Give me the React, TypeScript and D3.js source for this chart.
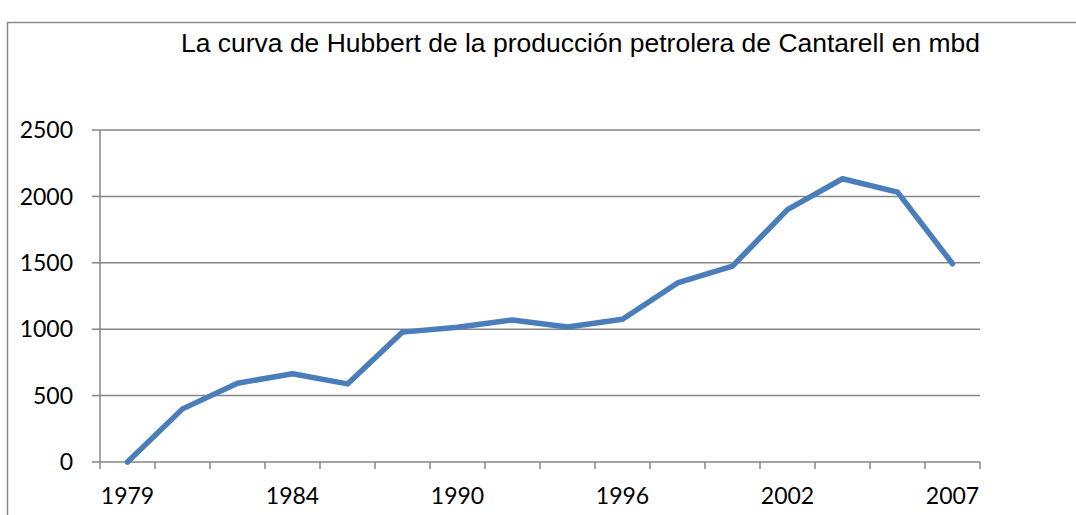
import React from "react";
import * as d3 from "d3";

const categories = ["1979","1981","1983","1984","1986","1988","1990","1992","1994","1996","1998","2000","2002","2004","2006","2007"];
const production = [0, 400, 593, 665, 588, 978, 1015, 1070, 1017, 1075, 1348, 1475, 1900, 2133, 2032, 1493];
const yTicks = [0, 500, 1000, 1500, 2000, 2500];
const labelEvery = 3;
const title = "La curva de Hubbert de la producción petrolera de Cantarell en mbd";

export default function App() {
  const W = 1076, H = 515;
  const left = 100, right = 980, top = 130, bottom = 462;
  const x = d3.scaleBand<string>().domain(categories).range([left, right]).paddingInner(0).paddingOuter(0);
  const y = d3.scaleLinear().domain([0, 2500]).range([bottom, top]);
  const line = d3.line<number>()
    .x((_, i) => (x(categories[i]) as number) + x.bandwidth() / 2)
    .y((d) => y(d));
  const grid = "#868686";
  const tickXs = categories.map((c) => x(c) as number).concat([right]);
  const labelFont = "Lato, 'Open Sans', sans-serif";
  return (
    <svg width={W} height={H} style={{ position: "absolute", left: 0, top: 0, background: "#fff" }}>
      <rect x={7.5} y={22.5} width={W + 10} height={H + 10} fill="#fff" stroke="#8a8a8a" strokeWidth={1.5} />
      <text x={181} y={52} fontFamily="'Liberation Sans', Arial, sans-serif" fontSize={25} fill="#000"
        textLength={799} lengthAdjust="spacingAndGlyphs">{title}</text>
      {yTicks.map((t) => (
        <g key={t}>
          {t > 0 && <line x1={left} x2={right} y1={y(t)} y2={y(t)} stroke={grid} strokeWidth={1.5} />}
          <line x1={left - 8} x2={left} y1={y(t)} y2={y(t)} stroke={grid} strokeWidth={1.5} />
          <text x={73} y={y(t)} dy="0.36em" textAnchor="end" fontFamily={labelFont} fontSize={23} fill="#000">{t}</text>
        </g>
      ))}
      <line x1={left} x2={left} y1={top} y2={bottom} stroke={grid} strokeWidth={1.5} />
      <line x1={left} x2={right} y1={bottom} y2={bottom} stroke={grid} strokeWidth={1.5} />
      {tickXs.map((tx, i) => (
        <line key={i} x1={tx} x2={tx} y1={bottom} y2={bottom + 7} stroke={grid} strokeWidth={1.5} />
      ))}
      {categories.map((c, i) =>
        i % labelEvery === 0 ? (
          <text key={c} x={(x(c) as number) + x.bandwidth() / 2} y={504} textAnchor="middle"
            fontFamily={labelFont} fontSize={23} fill="#000">{c}</text>
        ) : null
      )}
      <path d={line(production) || ""} fill="none" stroke="#4a7ebb" strokeWidth={5.5} strokeLinejoin="round" strokeLinecap="round" />
    </svg>
  );
}
